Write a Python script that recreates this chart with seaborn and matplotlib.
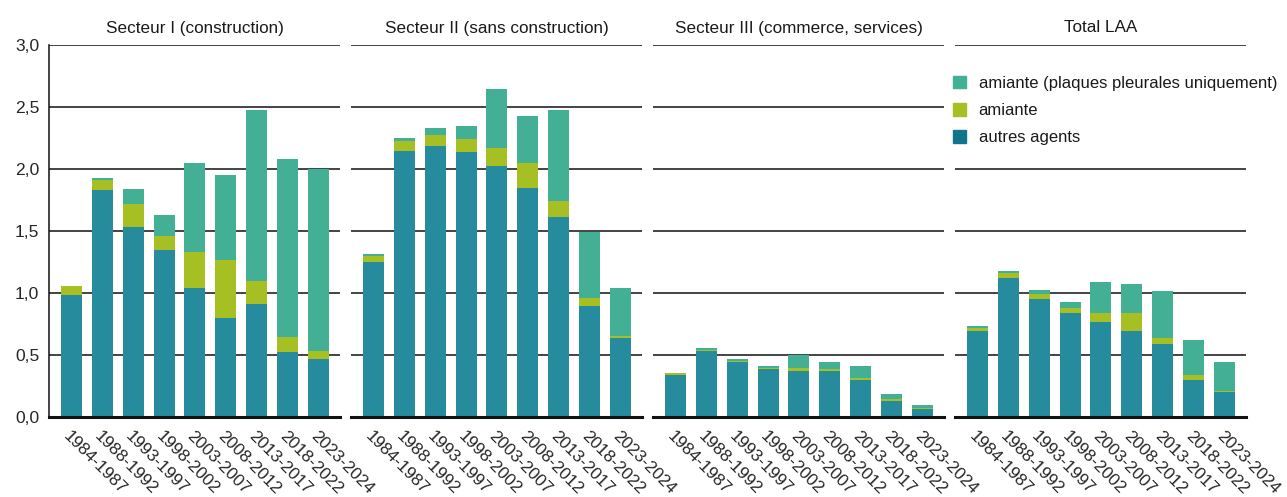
import numpy as np
import pandas as pd
import seaborn as sns
import matplotlib
matplotlib.use("Agg")
from matplotlib import pyplot as plt
from matplotlib.patches import Patch

periods = ["1984-1987", "1988-1992", "1993-1997", "1998-2002", "2003-2007",
           "2008-2012", "2013-2017", "2018-2022", "2023-2024"]
secteurs = ["Secteur I (construction)", "Secteur II (sans construction)",
            "Secteur III (commerce, services)", "Total LAA"]

# autres agents / amiante / amiante (plaques pleurales uniquement)
autres = [
    [0.985, 1.83, 1.53, 1.35, 1.04, 0.80, 0.91, 0.525, 0.47],
    [1.25, 2.145, 2.185, 2.135, 2.025, 1.845, 1.615, 0.895, 0.64],
    [0.34, 0.53, 0.44, 0.39, 0.375, 0.367, 0.295, 0.132, 0.067],
    [0.69, 1.125, 0.955, 0.84, 0.77, 0.69, 0.585, 0.30, 0.20],
]
amiante = [
    [0.07, 0.08, 0.19, 0.11, 0.29, 0.47, 0.19, 0.12, 0.065],
    [0.05, 0.08, 0.09, 0.105, 0.145, 0.20, 0.13, 0.065, 0.015],
    [0.017, 0.008, 0.008, 0.008, 0.024, 0.024, 0.016, 0.016, 0.008],
    [0.025, 0.04, 0.04, 0.04, 0.07, 0.145, 0.055, 0.035, 0.01],
]
plaques = [
    [0.0, 0.015, 0.12, 0.17, 0.715, 0.685, 1.375, 1.435, 1.465],
    [0.015, 0.025, 0.055, 0.11, 0.475, 0.385, 0.73, 0.53, 0.385],
    [0.0, 0.017, 0.017, 0.016, 0.105, 0.056, 0.097, 0.041, 0.025],
    [0.015, 0.015, 0.03, 0.05, 0.245, 0.235, 0.38, 0.29, 0.235],
]

c_autres = "#268b9c"
c_amiante = "#a6c024"
c_plaques = "#43b096"
c_autres_leg = "#10758a"

sns.set_style("white")
plt.rcParams["font.family"] = ["Liberation Sans", "DejaVu Sans"]
plt.rcParams["text.color"] = "#1a1a1a"
fs = 12.3

fig, axes = plt.subplots(1, 4, figsize=(12.87, 4.97), dpi=100, sharey=True)
fig.subplots_adjust(left=49 / 1287, right=1246 / 1287, top=1 - 45 / 497,
                    bottom=1 - 417 / 497, wspace=11 / 291)

for i, ax in enumerate(axes):
    df = pd.DataFrame({"period": periods,
                       "autres": autres[i],
                       "amiante": amiante[i],
                       "plaques": plaques[i]})
    df["mid"] = df["autres"] + df["amiante"]
    df["top"] = df["mid"] + df["plaques"]
    # stacked by overdrawing cumulative sums
    for col, c in [("top", c_plaques), ("mid", c_amiante), ("autres", c_autres)]:
        sns.barplot(data=df, x="period", y=col, color=c, saturation=1,
                    width=0.68, linewidth=0, edgecolor="none", ax=ax)

    ax.set_ylim(0, 3)
    ax.set_xlim(-0.73, 8.7)
    ax.set_yticks(np.arange(0, 3.01, 0.5))
    ax.set_yticklabels([f"{v:.1f}".replace(".", ",") for v in np.arange(0, 3.01, 0.5)],
                       fontsize=fs + 0.3)
    ax.yaxis.grid(True, color="#111111", lw=1.1)
    ax.set_axisbelow(True)
    ax.tick_params(axis="y", length=0, pad=7)
    ax.tick_params(axis="x", length=0, pad=8)
    ax.set_xticks(range(len(periods)))
    ax.set_xticklabels(periods, rotation=-45, ha="left", va="top",
                       rotation_mode="anchor", fontsize=fs)
    ax.set_xlabel("")
    ax.set_ylabel("")
    ax.set_title(secteurs[i], fontsize=fs, pad=9)
    for s in ["top", "right"]:
        ax.spines[s].set_visible(False)
    ax.spines["bottom"].set_linewidth(2.2)
    ax.spines["bottom"].set_color("#111111")
    if i == 0:
        ax.spines["left"].set_color("#111111")
        ax.spines["left"].set_linewidth(1.1)
    else:
        ax.spines["left"].set_visible(False)

handles = [Patch(color=c_plaques), Patch(color=c_amiante), Patch(color=c_autres_leg)]
labels = ["amiante (plaques pleurales uniquement)", "amiante", "autres agents"]
fig.legend(handles, labels, loc="upper left", bbox_to_anchor=(946 / 1287, 1 - 69 / 497),
           frameon=True, facecolor="white", edgecolor="none", framealpha=1,
           fontsize=fs - 0.3, handlelength=0.8, handleheight=0.8, handletextpad=0.75,
           labelspacing=0.72, borderaxespad=0, borderpad=0.4)

plt.savefig("out.png", dpi=100)
